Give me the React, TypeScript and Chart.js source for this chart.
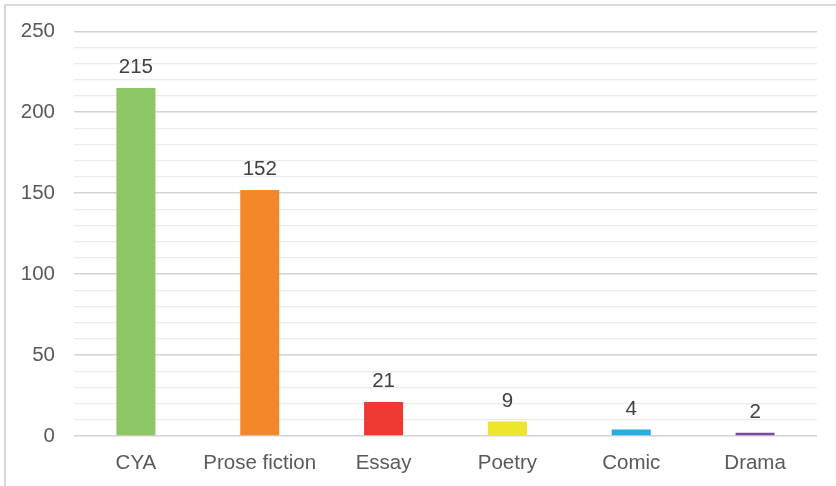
import React, { useEffect, useRef } from "react";
import { Chart, registerables } from "chart.js";

Chart.register(...registerables);

const categories = ["CYA", "Prose fiction", "Essay", "Poetry", "Comic", "Drama"];
const values = [215, 152, 21, 9, 4, 2];
const barColors = ["#8CC665", "#F5872B", "#EE3932", "#EEE62C", "#22ADE3", "#7B4BA0"];
const yMax = 250;
const yStep = 10;
const yLabelStep = 50;

const FONT = "'Liberation Sans', Arial, Helvetica, sans-serif";
const TEXT = "#595959";
const FS = 20.5;

const valueLabels = {
  id: "valueLabels",
  afterDatasetsDraw(chart: any) {
    const ctx = chart.ctx;
    const meta = chart.getDatasetMeta(0);
    ctx.save();
    ctx.font = `${FS}px ${FONT}`;
    ctx.fillStyle = "#404040";
    ctx.textAlign = "center";
    ctx.textBaseline = "bottom";
    meta.data.forEach((el: any, i: number) => {
      ctx.fillText(String(values[i]), el.x, el.y - 10);
    });
    ctx.restore();
  },
};

export default function App() {
  const ref = useRef<HTMLCanvasElement>(null);
  useEffect(() => {
    if (!ref.current) return;
    const chart = new Chart(ref.current, {
      type: "bar",
      data: {
        labels: categories,
        datasets: [
          {
            data: values,
            backgroundColor: barColors,
            borderWidth: 0,
            categoryPercentage: 1,
            barPercentage: 0.315,
          },
        ],
      },
      plugins: [valueLabels],
      options: {
        animation: false,
        responsive: false,
        maintainAspectRatio: false,
        layout: { padding: { top: 22, right: 19, bottom: 0, left: 0 } },
        plugins: { legend: { display: false }, tooltip: { enabled: false } },
        scales: {
          x: {
            grid: { display: false, drawTicks: false },
            border: { display: false },
            ticks: {
              color: TEXT,
              font: { family: FONT, size: FS },
              padding: 15,
              maxRotation: 0,
              autoSkip: false,
            },
            afterFit(scale: any) {
              scale.height = 50;
            },
          },
          y: {
            min: 0,
            max: yMax,
            grid: {
              drawTicks: false,
              color: (c: any) =>
                c.tick && c.tick.value % yLabelStep === 0 ? "#D3D3D3" : "#EBEBEB",
              lineWidth: (c: any) =>
                c.tick && c.tick.value % yLabelStep === 0 ? 1.5 : 1.2,
            },
            border: { display: false },
            ticks: {
              stepSize: yStep,
              autoSkip: false,
              color: TEXT,
              font: { family: FONT, size: FS },
              padding: 19,
              callback: (v: any) => (Number(v) % yLabelStep === 0 ? String(v) : ""),
            },
            afterFit(scale: any) {
              scale.width = 74;
            },
          },
        },
      },
    });
    return () => chart.destroy();
  }, []);

  return (
    <div
      style={{
        position: "fixed",
        left: 0,
        top: 0,
        width: 836,
        height: 486,
        overflow: "hidden",
        background: "#fff",
      }}
    >
      <div
        style={{
          position: "absolute",
          left: 4,
          top: 4,
          width: 900,
          height: 600,
          border: "2px solid #D9D9D9",
          boxSizing: "border-box",
        }}
      />
      <canvas
        ref={ref}
        width={836}
        height={486}
        style={{ position: "absolute", left: 0, top: 0, width: 836, height: 486 }}
      />
    </div>
  );
}
